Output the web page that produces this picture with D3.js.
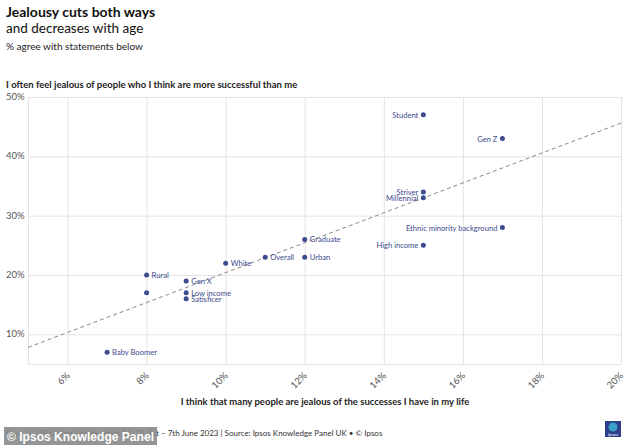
<!DOCTYPE html>
<html>
<head>
<meta charset="utf-8">
<script src="https://cdn.jsdelivr.net/npm/d3@7"></script>
<style>
  body { margin: 0; background: #fff; }
  svg { font-family: "Source Sans Pro", Lato, "Open Sans", sans-serif; }
  .grid line { stroke: #e3e3e3; }
  .grid path { display: none; }
</style>
</head>
<body>
<div class="chart"></div>
<script>
// groups and their % agreement (x: others are jealous of me, y: I feel jealous)
const groups = ["Student", "Gen Z", "Striver", "Millennial", "Ethnic minority background", "High income",
    "Graduate", "Urban", "Overall", "White", "Rural", "", "Gen X", "Low income", "Satisficer", "Baby Boomer"];
const xValues = [15, 17, 15, 15, 17, 15, 12, 12, 11, 10, 8, 8, 9, 9, 9, 7];
const yValues = [47, 43, 34, 33, 28, 25, 26, 23, 23, 22, 20, 17, 19, 17, 16, 7];
// which side of the dot the label goes on
const labelSide = ["l", "l", "l", "l", "l", "l", "r", "r", "r", "r", "r", "r", "r", "r", "r", "r"];

const xTicks = [6, 8, 10, 12, 14, 16, 18, 20];
const yTicks = [10, 20, 30, 40, 50];

// trend line end points
const trendX = [5, 20];
const trendY = [7.8, 45.6];

const width = 634, height = 445;
const margin = {top: 97, right: 13, bottom: 81, left: 28};

let svg = d3.select(".chart").append("svg")
    .attr("width", width)
    .attr("height", height);

let x = d3.scaleLinear().domain([5, 20]).range([margin.left, width - margin.right]);
let y = d3.scaleLinear().domain([5, 50]).range([height - margin.bottom, margin.top]);

const dotColor = "#3c4a8e";

// grid
svg.append("g")
    .attr("class", "grid")
    .attr("transform", `translate(0, ${height - margin.bottom})`)
    .call(d3.axisBottom(x).tickValues([5].concat(xTicks)).tickSize(-(y.range()[0] - y.range()[1])).tickFormat(""));

svg.append("g")
    .attr("class", "grid")
    .attr("transform", `translate(${margin.left}, 0)`)
    .call(d3.axisLeft(y).tickValues([5].concat(yTicks)).tickSize(-(x.range()[1] - x.range()[0])).tickFormat(""));

// y tick labels
svg.selectAll(".ylab")
    .data(yTicks).enter()
    .append("text")
    .attr("x", 6)
    .attr("y", d => y(d) + 3)
    .attr("font-size", 9.5)
    .attr("fill", "#555")
    .text(d => d + "%");

// x tick labels, rotated
svg.selectAll(".xlab")
    .data(xTicks).enter()
    .append("text")
    .attr("transform", d => `translate(${x(d) + 3}, ${height - margin.bottom + 12}) rotate(-45)`)
    .attr("text-anchor", "end")
    .attr("font-size", 9.5)
    .attr("fill", "#555")
    .text(d => d + "%");

// trend line
svg.append("line")
    .attr("x1", x(trendX[0])).attr("y1", y(trendY[0]))
    .attr("x2", x(trendX[1])).attr("y2", y(trendY[1]))
    .attr("stroke", "#888")
    .attr("stroke-width", 1)
    .attr("stroke-dasharray", "4,3");

// dots
let pts = groups.map((g, i) => ({name: g, x: xValues[i], y: yValues[i], side: labelSide[i]}));

svg.selectAll(".dot")
    .data(pts).enter()
    .append("circle")
    .attr("cx", d => x(d.x))
    .attr("cy", d => y(d.y))
    .attr("r", 2.5)
    .attr("fill", dotColor);

svg.selectAll(".lab")
    .data(pts).enter()
    .append("text")
    .attr("x", d => x(d.x) + (d.side == "r" ? 5 : -5))
    .attr("y", d => y(d.y) + 3)
    .attr("text-anchor", d => d.side == "r" ? "start" : "end")
    .attr("font-size", 7.6)
    .attr("fill", dotColor)
    .text(d => d.name);

// titles
svg.append("text").attr("x", 6).attr("y", 17)
    .attr("font-size", 14).attr("font-weight", "bold").attr("fill", "#111")
    .text("Jealousy cuts both ways");
svg.append("text").attr("x", 6).attr("y", 33)
    .attr("font-size", 13.5).attr("fill", "#111")
    .text("and decreases with age");
svg.append("text").attr("x", 6).attr("y", 50)
    .attr("font-size", 10).attr("fill", "#222")
    .text("% agree with statements below");

svg.append("text").attr("x", 6).attr("y", 88)
    .attr("font-size", 9.5).attr("font-weight", "bold").attr("fill", "#222")
    .text("I often feel jealous of people who I think are more successful than me");

svg.append("text").attr("x", 325).attr("y", 405)
    .attr("text-anchor", "middle")
    .attr("font-size", 9.5).attr("font-weight", "bold").attr("fill", "#222")
    .text("I think that many people are jealous of the successes I have in my life");

svg.append("text").attr("x", 6).attr("y", 436)
    .attr("font-size", 8).attr("fill", "#333")
    .text("Base: 2,178 Online British adults 18-75, 1st \u2013 7th June 2023 | Source: Ipsos Knowledge Panel UK \u2022 \u00a9 Ipsos");

// watermark
svg.append("rect").attr("x", 4).attr("y", 427).attr("width", 153).attr("height", 18)
    .attr("fill", "#8a8a8a").attr("opacity", 0.9);
svg.append("text").attr("x", 7).attr("y", 441)
    .attr("font-size", 12.5).attr("font-weight", "bold").attr("fill", "#fff")
    .attr("font-family", "Liberation Sans, Arial, sans-serif")
    .attr("textLength", 147).attr("lengthAdjust", "spacingAndGlyphs")
    .text("\u00a9 Ipsos Knowledge Panel");

// logo
svg.append("rect").attr("x", 605).attr("y", 421).attr("width", 16).attr("height", 16)
    .attr("fill", "#2c3e8c");
svg.append("circle").attr("cx", 613).attr("cy", 427).attr("r", 4.5).attr("fill", "#3aa0c8");
svg.append("text").attr("x", 613).attr("y", 435.5).attr("text-anchor", "middle")
    .attr("font-size", 4.5).attr("fill", "#fff").text("Ipsos");
</script>
</body>
</html>
